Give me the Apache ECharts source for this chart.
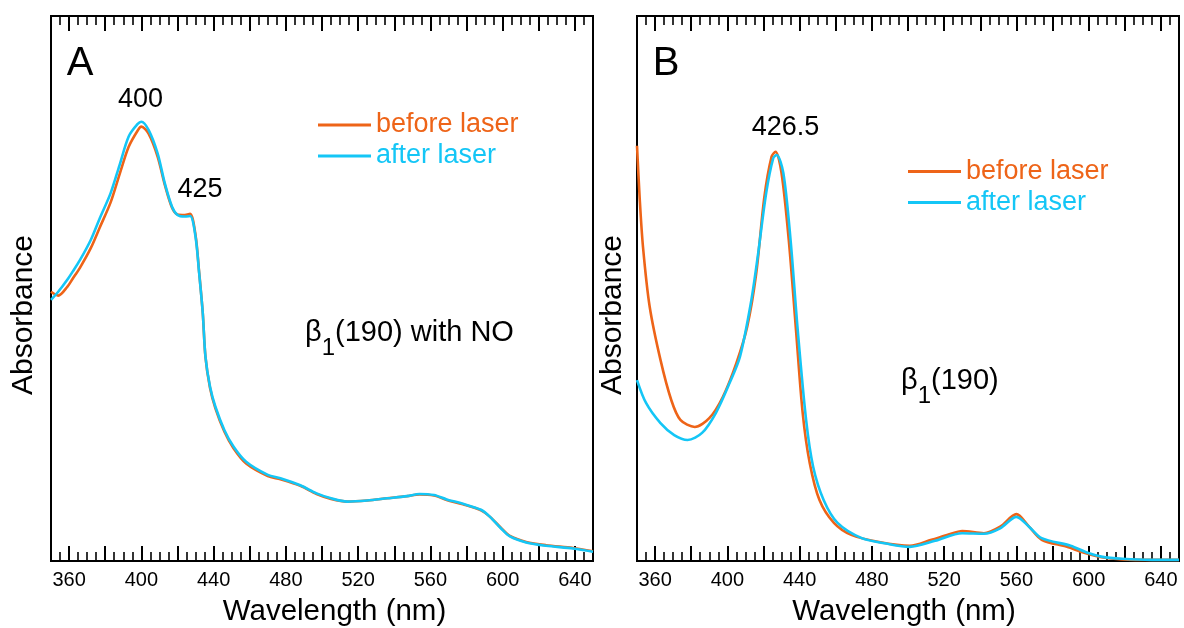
<!DOCTYPE html>
<html>
<head>
<meta charset="utf-8">
<script src="https://cdn.jsdelivr.net/npm/echarts@6/dist/echarts.min.js"></script>
<style>html,body{margin:0;padding:0;background:#fff}#c{width:1184px;height:628px}</style>
</head>
<body>
<div id="c"></div>
<script>
// ---- Panel A: beta1(190) with NO ----
const wlA = [350, 354, 359, 362, 366, 372, 377, 383, 388, 393, 398, 400, 404, 409, 413, 417, 420, 424, 427, 430, 432, 434, 435.5, 438, 441, 446, 451, 458, 470, 477, 488, 497, 505, 514, 525, 536, 547, 554, 562, 569, 578, 588, 593, 599, 604, 613, 624, 639, 650];
const absA_before = [0.494, 0.487, 0.503, 0.518, 0.538, 0.574, 0.612, 0.658, 0.710, 0.760, 0.790, 0.797, 0.784, 0.742, 0.690, 0.648, 0.636, 0.635, 0.637, 0.598, 0.530, 0.455, 0.374, 0.318, 0.280, 0.237, 0.207, 0.179, 0.156, 0.150, 0.138, 0.123, 0.114, 0.109, 0.111, 0.115, 0.119, 0.122, 0.120, 0.112, 0.104, 0.093, 0.081, 0.061, 0.046, 0.035, 0.029, 0.024, 0.018];
const absA_after = [0.479, 0.494, 0.516, 0.531, 0.552, 0.589, 0.629, 0.675, 0.727, 0.779, 0.802, 0.806, 0.791, 0.748, 0.693, 0.650, 0.635, 0.632, 0.633, 0.595, 0.528, 0.455, 0.375, 0.320, 0.283, 0.240, 0.210, 0.182, 0.158, 0.152, 0.139, 0.124, 0.115, 0.109, 0.111, 0.115, 0.119, 0.123, 0.121, 0.113, 0.105, 0.094, 0.081, 0.060, 0.045, 0.034, 0.028, 0.023, 0.017];

// ---- Panel B: beta1(190) ----
const wlB_before = [350, 351.5, 353.3, 357, 363, 369, 374, 382, 390, 397.5, 405, 411, 416, 420.5, 424.5, 426.7, 430, 434, 438, 441.7, 445.6, 451, 459, 468.6, 484, 501, 513, 522, 530, 542, 551, 560, 567, 574, 588, 597.5, 607, 618.6, 635, 650];
const absB_before = [0.762, 0.665, 0.577, 0.467, 0.369, 0.295, 0.259, 0.246, 0.262, 0.301, 0.363, 0.430, 0.528, 0.668, 0.742, 0.751, 0.712, 0.589, 0.424, 0.272, 0.180, 0.112, 0.070, 0.048, 0.035, 0.028, 0.039, 0.048, 0.055, 0.051, 0.063, 0.086, 0.063, 0.039, 0.026, 0.015, 0.007, 0.003, 0.002, 0.002];
const wlB_after = [350, 355, 363, 370.6, 378, 386, 393.7, 401.3, 407, 413, 416.8, 421.5, 425.4, 427.3, 431, 435, 438.8, 443.6, 447.5, 453.3, 461, 474.4, 488, 501, 515, 530, 542, 551, 560, 567, 574, 590, 599.4, 607, 618.6, 635, 650];
const absB_after = [0.332, 0.290, 0.253, 0.231, 0.222, 0.235, 0.272, 0.327, 0.375, 0.473, 0.558, 0.675, 0.739, 0.745, 0.712, 0.589, 0.430, 0.259, 0.173, 0.112, 0.070, 0.042, 0.032, 0.026, 0.037, 0.051, 0.050, 0.060, 0.081, 0.063, 0.042, 0.028, 0.015, 0.008, 0.004, 0.002, 0.002];

// ---- Axis ticks / labels ----
const majorTicks = [360, 380, 400, 420, 440, 460, 480, 500, 520, 540, 560, 580, 600, 620, 640];
const tickLabels = [360, 400, 440, 480, 520, 560, 600, 640];
const seriesNames = ['before laser', 'after laser'];

const ORANGE = '#EE6418';
const CYAN = '#14C6F6';
const FONT = 'Liberation Sans, Arial, sans-serif';

function pairs(x, y) { return x.map((v, i) => [v, y[i]]); }

const panels = [
  { left: 51, width: 542 },
  { left: 637, width: 542 }
];
const grids = [];
panels.forEach(p => {
  grids.push({ left: p.left, top: 16, width: p.width, height: 545, show: true, borderColor: '#000', borderWidth: 2, containLabel: false });
  grids.push({ left: p.left, top: 16, width: p.width, height: 545, show: false, containLabel: false });
});

const xAxes = [];
const yAxes = [];
[0, 2].forEach(g => {
  ['bottom', 'top'].forEach(pos => {
    xAxes.push({
      type: 'value', gridIndex: g, position: pos, min: 350, max: 650,
      axisLine: { show: true, onZero: false, lineStyle: { color: '#000', width: 2 } },
      axisTick: { show: true, inside: true, length: 15, customValues: majorTicks, lineStyle: { color: '#000', width: 2 } },
      axisLabel: pos === 'bottom'
        ? { show: true, customValues: tickLabels, color: '#000', fontSize: 20, fontFamily: FONT, margin: 9 }
        : { show: false },
      splitLine: { show: false }
    });
  });
  ['bottom', 'top'].forEach(pos => {
    xAxes.push({
      type: 'value', gridIndex: g + 1, position: pos, min: 350, max: 650, interval: 5,
      axisLine: { show: false, onZero: false },
      axisTick: { show: true, inside: true, length: 9, lineStyle: { color: '#000', width: 1.6 } },
      axisLabel: { show: false },
      splitLine: { show: false }
    });
  });
  yAxes.push({ type: 'value', gridIndex: g, min: 0, max: 1, show: false });
  yAxes.push({ type: 'value', gridIndex: g + 1, min: 0, max: 1, show: false });
});

function lineSeries(name, color, data, xi, yi) {
  return {
    name, type: 'line', xAxisIndex: xi, yAxisIndex: yi, data,
    symbol: 'none', smooth: 0.3, color,
    lineStyle: { color, width: 2.6 }, itemStyle: { color },
    emphasis: { disabled: true }
  };
}

const series = [
  lineSeries(seriesNames[0], ORANGE, pairs(wlA, absA_before), 0, 0),
  lineSeries(seriesNames[1], CYAN, pairs(wlA, absA_after), 0, 0),
  lineSeries(seriesNames[0], ORANGE, pairs(wlB_before, absB_before), 4, 2),
  lineSeries(seriesNames[1], CYAN, pairs(wlB_after, absB_after), 4, 2)
];

function legendAt(left, top) {
  return {
    left, top, orient: 'vertical', padding: 0, itemGap: 4, itemWidth: 53, itemHeight: 3,
    icon: 'rect', selectedMode: false,
    data: [
      { name: seriesNames[0], textStyle: { color: ORANGE } },
      { name: seriesNames[1], textStyle: { color: CYAN } }
    ],
    textStyle: { fontSize: 27, fontFamily: FONT }
  };
}

function txt(text, x, y, size, opts) {
  return Object.assign({
    type: 'text', x, y, silent: true,
    style: { text, fill: '#000', font: size + 'px ' + FONT, textAlign: 'center', textVerticalAlign: 'middle' }
  }, opts || {});
}
function betaText(main, x, yTop) {
  return {
    type: 'text', x, y: yTop, silent: true,
    style: {
      text: '{a|β}{s|1}{a|' + main + '}',
      textAlign: 'left', textVerticalAlign: 'top', fill: '#000',
      rich: {
        a: { fontSize: 29, lineHeight: 29, fontFamily: FONT, color: '#000', verticalAlign: 'top' },
        s: { fontSize: 24, lineHeight: 24, fontFamily: FONT, color: '#000', verticalAlign: 'top', padding: [18, 0, 0, 0] }
      }
    }
  };
}

const graphic = [
  txt('A', 80, 64, 40),
  txt('B', 666, 64, 40),
  txt('400', 140.5, 100, 27),
  txt('425', 200, 189.5, 27),
  txt('426.5', 785.5, 128, 27),
  txt('Absorbance', 24, 315, 30, { rotation: Math.PI / 2 }),
  txt('Absorbance', 613, 315, 30, { rotation: Math.PI / 2 }),
  txt('Wavelength (nm)', 334.5, 612, 29.5),
  txt('Wavelength (nm)', 904, 612, 29.5),
  betaText('(190) with NO', 305, 318),
  betaText('(190)', 901, 366)
];

const chart = echarts.init(document.getElementById('c'), null, { renderer: 'canvas' });
chart.setOption({
  animation: false,
  backgroundColor: '#fff',
  grid: grids,
  xAxis: xAxes,
  yAxis: yAxes,
  legend: [legendAt(318, 111.5), legendAt(908, 158)],
  series,
  graphic
});
</script>
</body>
</html>
